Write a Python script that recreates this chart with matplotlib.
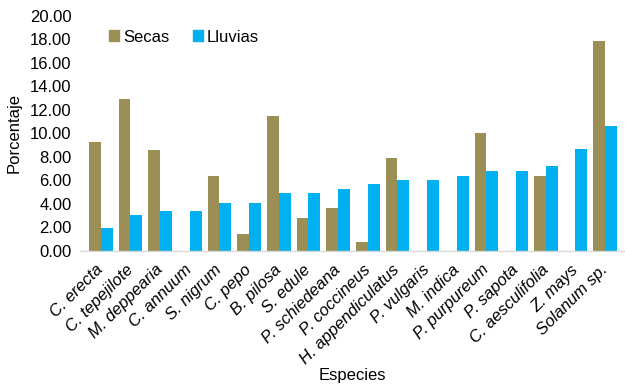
import numpy as np
import matplotlib
matplotlib.use('Agg')
import matplotlib.pyplot as plt
from matplotlib.patches import Patch

plt.rcParams['font.family'] = ['Liberation Sans', 'DejaVu Sans']

especies = ['C. erecta', 'C. tepejilote', 'M. deppearia', 'C. annuum', 'S. nigrum',
            'C. pepo', 'B. pilosa', 'S. edule', 'P. schiedeana', 'P. coccineus',
            'H. appendiculatus', 'P. vulgaris', 'M. indica', 'P. purpureum',
            'P. sapota', 'C. aesculifolia', 'Z. mays', 'Solanum sp.']
secas = [9.3, 12.9, 8.6, 0, 6.4, 1.4, 11.5, 2.8, 3.6, 0.7,
         7.9, 0, 0, 10.0, 0, 6.4, 0, 17.9]
lluvias = [1.9, 3.0, 3.4, 3.4, 4.1, 4.1, 4.9, 4.9, 5.3, 5.7,
           6.0, 6.0, 6.4, 6.8, 6.8, 7.2, 8.7, 10.6]
yticks = np.arange(0, 21, 2)

c_secas = '#9B8F55'
c_lluvias = '#00B0F0'

fig = plt.figure(figsize=(6.25, 3.88), dpi=100)
ax = fig.add_axes([80/625, 1-250.7/388, 545/625, 234.7/388])

x = np.arange(len(especies))
w = 0.4
ax.bar(x - w/2, secas, w, color=c_secas)
ax.bar(x + w/2, lluvias, w, color=c_lluvias)

ax.set_xlim(-0.7, 17.67)
ax.set_ylim(0, 20)
ax.set_yticks(yticks)
ax.set_yticklabels(['%.2f' % v for v in yticks], fontsize=12)
ax.set_xticks(x)
ax.set_xticklabels(especies, fontsize=12, style='italic', rotation=45,
                   ha='right', va='center', rotation_mode='anchor')
ax.tick_params(axis='both', length=0)
ax.tick_params(axis='y', pad=6)
ax.tick_params(axis='x', pad=12)

for s in ['top', 'right', 'left']:
    ax.spines[s].set_visible(False)
ax.spines['bottom'].set_color('#D9D9D9')
ax.spines['bottom'].set_linewidth(1)

ax.set_ylabel('Porcentaje', fontsize=12, labelpad=6)
ax.set_xlabel('Especies', fontsize=12)
ax.xaxis.set_label_coords(0.5, -0.50)

handles = [Patch(color=c_secas, label='Secas'), Patch(color=c_lluvias, label='Lluvias')]
ax.legend(handles=handles, loc='center left', bbox_to_anchor=(109/625, 1-37/388),
          bbox_transform=fig.transFigure, ncol=2, frameon=False, fontsize=12,
          handlelength=0.6, handleheight=0.6, handletextpad=0.25,
          columnspacing=1.4, borderpad=0, borderaxespad=0)

fig.savefig('out.png', dpi=100)
